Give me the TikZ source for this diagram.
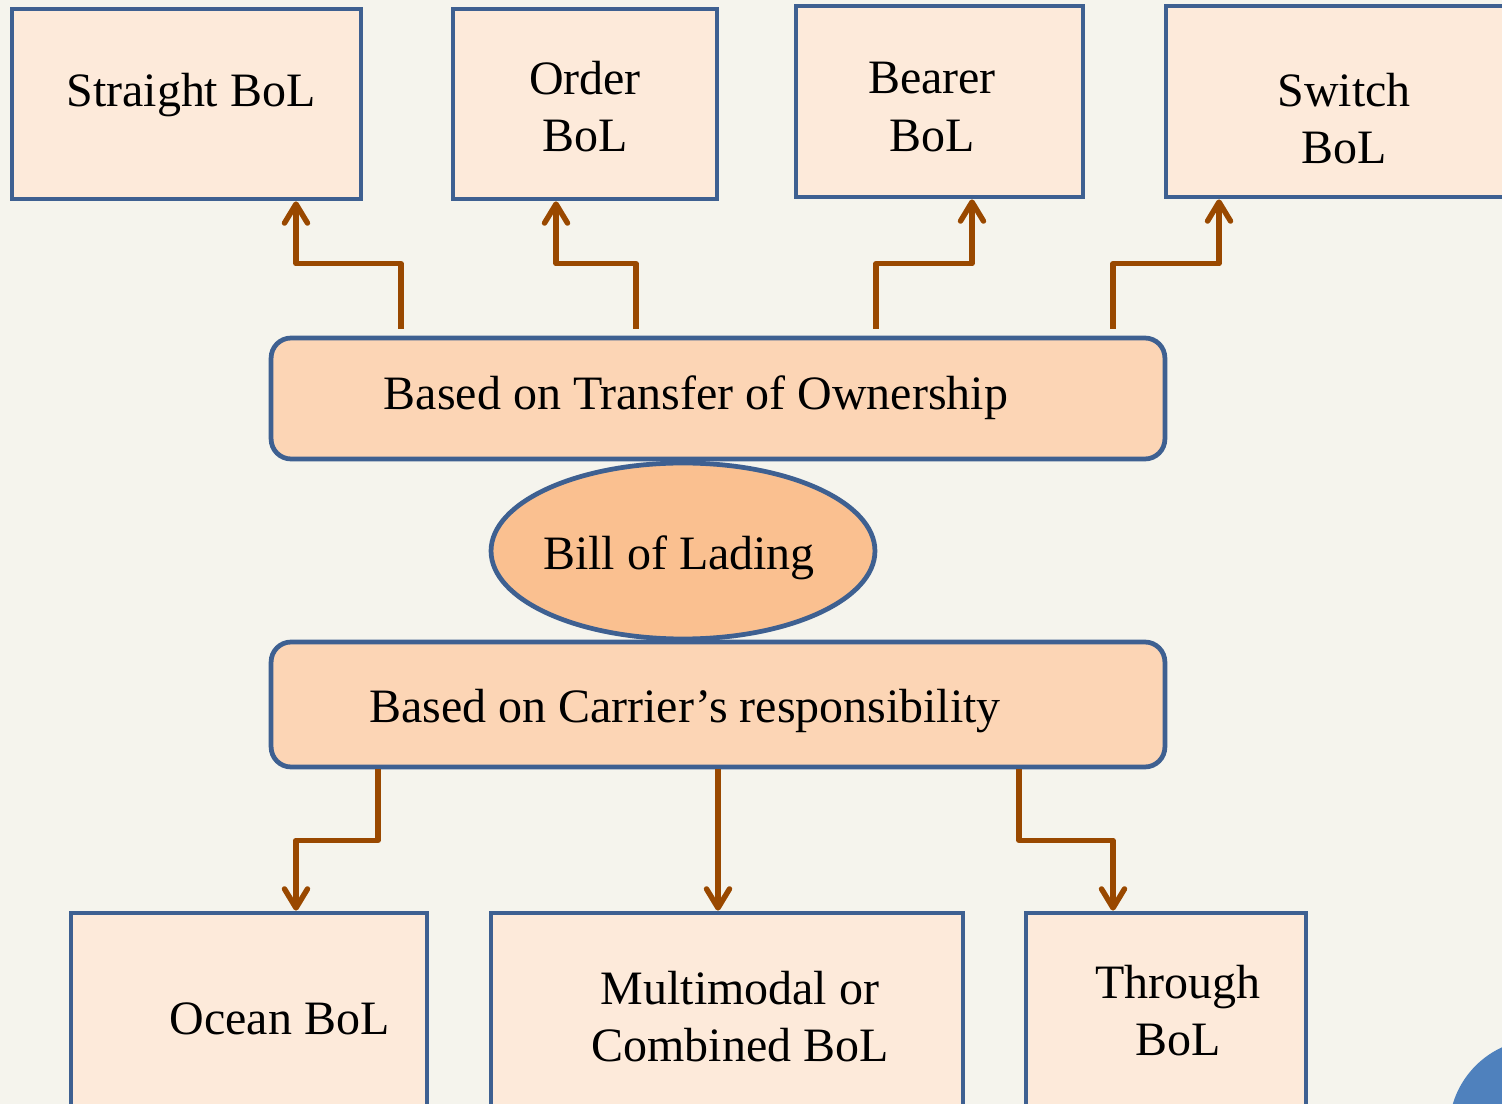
\documentclass[tikz,border=0pt]{standalone}
\usepackage{fontspec}
\setmainfont{Liberation Serif}
\usepackage{tikz}
\usetikzlibrary{arrows.meta,shapes,positioning}
\definecolor{bolblue}{RGB}{62,96,145}
\definecolor{bolbrown}{RGB}{153,72,0}
\definecolor{bolpeach}{RGB}{253,234,218}
\definecolor{bolpeachmid}{RGB}{252,213,181}
\definecolor{bolpeachdark}{RGB}{250,192,144}
\definecolor{bolback}{RGB}{245,244,237}
\definecolor{bolcircle}{RGB}{79,129,189}
\tikzstyle{leaf} = [rectangle, draw=bolblue, fill=bolpeach, line width=2.7pt, inner sep=0pt]
\tikzstyle{basis} = [rectangle, rounded corners=0.4cm, draw=bolblue, fill=bolpeachmid, line width=2.7pt, inner sep=0pt, minimum width=17.88cm]
\tikzstyle{root} = [ellipse, draw=bolblue, fill=bolpeachdark, line width=2.7pt, inner sep=0pt, minimum width=7.68cm, minimum height=3.52cm]
\tikzstyle{txt} = [font=\fontsize{27.3}{32.5}\selectfont, inner sep=0pt, align=center]
\tikzstyle{arrow} = [line width=3.1pt, color=bolbrown, line join=round, -{Straight Barb[length=0.38cm, width=0.46cm, round]}]

\begin{document}
\begin{tikzpicture}[x=0.02cm, y=-0.02cm]
\useasboundingbox (0,0) rectangle (1502,1104);
\fill[bolback] (0,0) rectangle (1502,1104);
\fill[bolcircle] (1540,1130) circle[radius=1.82cm];

% kinds by transfer of ownership
\node[leaf, minimum width=6.98cm, minimum height=3.8cm] (straight) at (186.5,104) {};
\node[leaf, minimum width=5.28cm, minimum height=3.8cm] (order) at (585,104) {};
\node[leaf, minimum width=5.74cm, minimum height=3.82cm] (bearer) at (939.5,101.5) {};
\node[leaf, minimum width=7.14cm, minimum height=3.82cm] (switch) at (1344.5,101.5) {};
\node[txt, anchor=base] (straight-t) at (191,107) {Straight BoL};
\node[txt] (order-t) at (585,107) {Order\\BoL};
\node[txt] (bearer-t) at (932,107) {Bearer\\BoL};
\node[txt] (switch-t) at (1344,118.5) {Switch\\BoL};

% centre
\node[root] (bol) at (683,551) {};
\node[basis, minimum height=2.42cm] (transfer) at (718,398.5) {};
\node[basis, minimum height=2.5cm] (carrier) at (718,704.5) {};
\node[txt, anchor=base] (transfer-t) at (696,410) {Based on Transfer of Ownership};
\node[txt, anchor=base] (bol-t) at (679,570) {Bill of Lading};
\node[txt, anchor=base] (carrier-t) at (685,723) {Based on Carrier’s responsibility};

% kinds by carrier's responsibility
\node[leaf, minimum width=7.12cm, minimum height=4.34cm] (ocean) at (249,1021.5) {};
\node[leaf, minimum width=9.44cm, minimum height=4.34cm] (multi) at (727,1021.5) {};
\node[leaf, minimum width=5.6cm, minimum height=4.34cm] (through) at (1166,1021.5) {};
\node[txt, anchor=base] (ocean-t) at (279.5,1034) {Ocean BoL};
\node[txt] (multi-t) at (740,1017) {Multimodal or\\Combined BoL};
\node[txt] (through-t) at (1178,1010.5) {Through\\BoL};

\draw[arrow] ([xshift=-6.34cm,yshift=0.14cm]transfer.north) -- ++(0,-65) -| ([xshift=2.19cm]straight.south);
\draw[arrow] ([xshift=-1.64cm,yshift=0.14cm]transfer.north) -- ++(0,-65) -| ([xshift=-0.58cm]order.south);
\draw[arrow] ([xshift=3.16cm,yshift=0.14cm]transfer.north) -- ++(0,-65) -| ([xshift=0.65cm]bearer.south);
\draw[arrow] ([xshift=7.9cm,yshift=0.14cm]transfer.north) -- ++(0,-65) -| ([xshift=-2.51cm]switch.south);

\draw[arrow] ([xshift=-6.8cm]carrier.south) -- ++(0,71) -| ([xshift=0.94cm]ocean.north);
\draw[arrow] (carrier.south) -- (carrier.south |- multi.north);
\draw[arrow] ([xshift=6.02cm]carrier.south) -- ++(0,71) -| ([xshift=-1.06cm]through.north);
\end{tikzpicture}
\end{document}
